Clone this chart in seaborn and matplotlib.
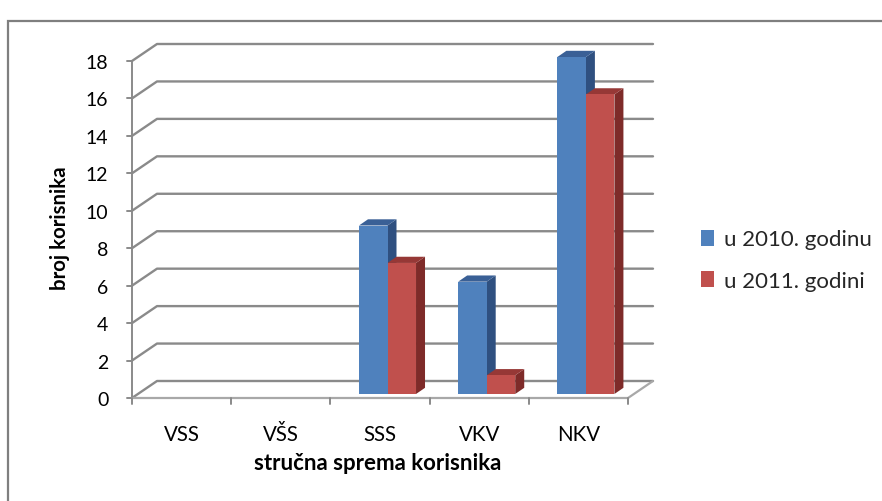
import numpy as np
import pandas as pd
import matplotlib
matplotlib.use("Agg")
import matplotlib.pyplot as plt
import seaborn as sns
from matplotlib.patches import Polygon, Rectangle, Patch
from matplotlib.lines import Line2D
from matplotlib.transforms import offset_copy, IdentityTransform

# ---- data ----
categories = ["VSS", "VŠS", "SSS", "VKV", "NKV"]
values_2010 = [0, 0, 9, 6, 18]
values_2011 = [0, 0, 7, 1, 16]
series_names = ["u 2010. godinu", "u 2011. godini"]
y_ticks = [0, 2, 4, 6, 8, 10, 12, 14, 16, 18]
x_label = "stručna sprema korisnika"
y_label = "broj korisnika"

front_colors = ["#4F81BD", "#C0504D"]
side_colors = ["#2F5080", "#7E2B29"]
top_colors = ["#3A6096", "#963836"]
grid_color = "#8A8A8A"

sns.set_theme(style="white")
plt.rcParams["font.family"] = ["Lato", "DejaVu Sans"]

W, H = 882, 502
fig = plt.figure(figsize=(W / 100, H / 100), dpi=100)
fig.patch.set_facecolor("white")

# front plane of the plot area (pixels, top-origin)
px0, px1 = 132, 628
py0, py1 = 399, 62
ax = fig.add_axes([px0 / W, (H - py0) / H, (px1 - px0) / W, (py0 - py1) / H])
ax.patch.set_visible(False)

df = pd.DataFrame({
    "cat": categories * 2,
    "val": values_2010 + values_2011,
    "series": [series_names[0]] * len(categories) + [series_names[1]] * len(categories),
})
sns.barplot(data=df, x="cat", y="val", hue="series", palette=front_colors,
            width=0.575, saturation=1, ax=ax, legend=False, zorder=3,
            errorbar=None, linewidth=0)
ax.set_xlim(-0.5, len(categories) - 0.5)
ax.set_ylim(0, 18)
for s in ax.spines.values():
    s.set_visible(False)
ax.grid(False)

# 3-D style offsets (display pixels, y up)
wall_dx, wall_dy = 25, 17
shift_dx, shift_dy = 7.5, 4
depth_dx, depth_dy = 9, 6.2

T = ax.transData
ID = IdentityTransform()

def disp(x, y):
    return T.transform((x, y))

# gridlines with perspective diagonals
xl_lim, xr_lim = ax.get_xlim()
for v in y_ticks:
    fx, fy = disp(xl_lim, v)
    rx, ry = disp(xr_lim, v)
    ax.add_line(Line2D([fx, fx + wall_dx, rx + wall_dx], [fy, fy + wall_dy, ry + wall_dy],
                       transform=ID, clip_on=False, color=grid_color, lw=1.7, zorder=1))
    # y tick mark
    ax.add_line(Line2D([fx - 5, fx], [fy, fy], transform=ID, clip_on=False,
                       color=grid_color, lw=1.4, zorder=1))

# y axis line
bx, by = disp(xl_lim, 0)
tx, ty = disp(xl_lim, 18)
ax.add_line(Line2D([bx, tx], [by, ty], transform=ID, clip_on=False,
                   color=grid_color, lw=1.4, zorder=1))
# floor front edge + right diagonal
rx, ry = disp(xr_lim, 0)
ax.add_line(Line2D([bx, rx, rx + wall_dx], [by, ry, ry + wall_dy], transform=ID,
                   clip_on=False, color="#A8A8A8", lw=1.6, zorder=1))
# x tick marks at category boundaries
for b in np.arange(xl_lim, xr_lim + 0.01, 1.0):
    qx, qy = disp(b, 0)
    ax.add_line(Line2D([qx, qx], [qy, qy - 6], transform=ID, clip_on=False,
                       color=grid_color, lw=1.4, zorder=1))

# bars: shift into depth and add side/top faces
shift_tr = offset_copy(ax.transData, x=shift_dx, y=shift_dy, units="dots")
for ci, cont in enumerate(ax.containers):
    for bar in cont:
        bar.set_transform(shift_tr)
        bar.set_clip_on(False)
        h = bar.get_height()
        if h <= 0:
            bar.set_visible(False)
            continue
        x = bar.get_x()
        w = bar.get_width()
        (xl, yb) = disp(x, 0) + np.array([shift_dx, shift_dy])
        (xr, yt) = disp(x + w, h) + np.array([shift_dx, shift_dy])
        side = Polygon([(xr, yb), (xr + depth_dx, yb + depth_dy),
                        (xr + depth_dx, yt + depth_dy), (xr, yt)], closed=True,
                       transform=ID, facecolor=side_colors[ci], edgecolor="none",
                       clip_on=False, zorder=2.9)
        top = Polygon([(xl, yt), (xr, yt), (xr + depth_dx, yt + depth_dy),
                       (xl + depth_dx, yt + depth_dy)], closed=True, transform=ID,
                      facecolor=top_colors[ci], edgecolor="none", clip_on=False, zorder=2.9)
        ax.add_patch(side)
        ax.add_patch(top)

# ticks and labels
ax.set_yticks(y_ticks)
ax.set_yticklabels([str(v) for v in y_ticks], fontsize=14, color="black")
ax.tick_params(axis="y", length=0, pad=17)
ax.set_xticks(range(len(categories)))
ax.set_xticklabels(categories, fontsize=14.8, color="black")
ax.tick_params(axis="x", length=0, pad=19)
ax.set_xlabel("")
ax.set_ylabel("")

fig.text(60 / W, 1 - 228 / H, y_label, rotation=90, ha="center", va="center",
         fontsize=14.7, fontweight="bold", color="black")
fig.text(378 / W, 1 - 464 / H, x_label, ha="center", va="center",
         fontsize=16, fontweight="bold", color="black")

# legend
handles = [Patch(facecolor=c, edgecolor="none") for c in front_colors]
fig.legend(handles=handles, labels=series_names, loc="center left",
           bbox_to_anchor=(701 / W, 1 - 261 / H), frameon=False, fontsize=16,
           handlelength=0.6, handleheight=0.75, handletextpad=0.45,
           labelspacing=0.95, borderpad=0, borderaxespad=0)

# outer chart frame
fig.add_artist(Rectangle((8 / W, -0.5), 2.0, (1 - 22 / H) + 0.5, transform=fig.transFigure,
                         fill=False, edgecolor="#7F7F7F", lw=1.6))

fig.savefig("out.png", dpi=100)
